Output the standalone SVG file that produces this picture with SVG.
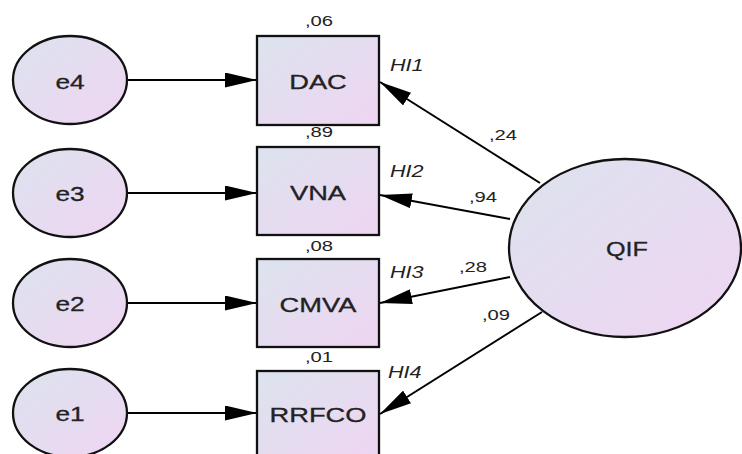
<svg xmlns="http://www.w3.org/2000/svg" width="742" height="454" viewBox="0 0 742 454">
<defs>
<linearGradient id="g" x1="0" y1="0" x2="1" y2="1">
<stop offset="0" stop-color="#dce3ee"/>
<stop offset="1" stop-color="#efd5f2"/>
</linearGradient>
<marker id="ah" viewBox="0 0 32 15" markerUnits="userSpaceOnUse" markerWidth="32" markerHeight="15" refX="32" refY="7.5" orient="auto">
<path d="M0,0 L32,7.5 L0,15 z" fill="#000"/>
</marker>
<style>
.sh{fill:url(#g);stroke:#111;stroke-width:2.3}
.c{stroke:#000;stroke-width:2;fill:none;marker-end:url(#ah)}
.t{font-family:"Liberation Sans",Arial,sans-serif;font-size:21px;fill:#222;stroke:#222;stroke-width:0.3;text-anchor:middle}
.s{font-family:"Liberation Sans",Arial,sans-serif;font-size:15px;fill:#222;text-anchor:middle}
.h{font-family:"Liberation Sans",Arial,sans-serif;font-size:16px;font-style:italic;fill:#222}
</style>
</defs>
<rect width="742" height="454" fill="#fff"/>
<g id="connectors">
<line class="c" x1="127" y1="80" x2="257" y2="80"/>
<line class="c" x1="127" y1="193" x2="257" y2="193"/>
<line class="c" x1="127" y1="303" x2="257" y2="303"/>
<line class="c" x1="127" y1="413" x2="257" y2="413"/>
<line class="c" x1="540" y1="183" x2="380" y2="82"/>
<line class="c" x1="510" y1="219" x2="380" y2="195"/>
<line class="c" x1="510" y1="277" x2="380" y2="303"/>
<line class="c" x1="542" y1="312" x2="380" y2="414"/>
<text class="s" transform="translate(503,140) scale(1.35,1)">,24</text>
<text class="s" transform="translate(483,202) scale(1.35,1)">,94</text>
<text class="s" transform="translate(473,272) scale(1.35,1)">,28</text>
<text class="s" transform="translate(496,320) scale(1.35,1)">,09</text>
</g>
<g id="e4"><ellipse class="sh" cx="70" cy="80" rx="57" ry="44"/><text class="t" transform="translate(70,89) scale(1.25,1)">e4</text></g>
<g id="e3"><ellipse class="sh" cx="70" cy="193" rx="57" ry="44"/><text class="t" transform="translate(70,201) scale(1.25,1)">e3</text></g>
<g id="e2"><ellipse class="sh" cx="70" cy="303" rx="57" ry="44"/><text class="t" transform="translate(70,311) scale(1.25,1)">e2</text></g>
<g id="e1"><ellipse class="sh" cx="70" cy="413" rx="57" ry="44"/><text class="t" transform="translate(70,421) scale(1.25,1)">e1</text></g>
<g id="DAC"><rect class="sh" x="257" y="36" width="122" height="89"/><text class="t" transform="translate(318,89) scale(1.3,1)">DAC</text>
<text class="s" transform="translate(319,26) scale(1.35,1)">,06</text><text class="h" transform="translate(390,71) scale(1.35,1)">HI1</text></g>
<g id="VNA"><rect class="sh" x="257" y="147" width="122" height="88"/><text class="t" transform="translate(318,200) scale(1.3,1)">VNA</text>
<text class="s" transform="translate(319,137) scale(1.35,1)">,89</text><text class="h" transform="translate(390,177) scale(1.35,1)">HI2</text></g>
<g id="CMVA"><rect class="sh" x="257" y="259" width="122" height="88"/><text class="t" transform="translate(318,312) scale(1.3,1)">CMVA</text>
<text class="s" transform="translate(319,251) scale(1.35,1)">,08</text><text class="h" transform="translate(390,278) scale(1.35,1)">HI3</text></g>
<g id="RRFCO"><rect class="sh" x="257" y="371" width="122" height="92"/><text class="t" transform="translate(318,422) scale(1.3,1)">RRFCO</text>
<text class="s" transform="translate(319,362) scale(1.35,1)">,01</text><text class="h" transform="translate(388,378) scale(1.35,1)">HI4</text></g>
<g id="QIF"><ellipse class="sh" cx="625" cy="248" rx="116" ry="89"/><text class="t" transform="translate(627,256) scale(1.2,1)">QIF</text></g>
</svg>
